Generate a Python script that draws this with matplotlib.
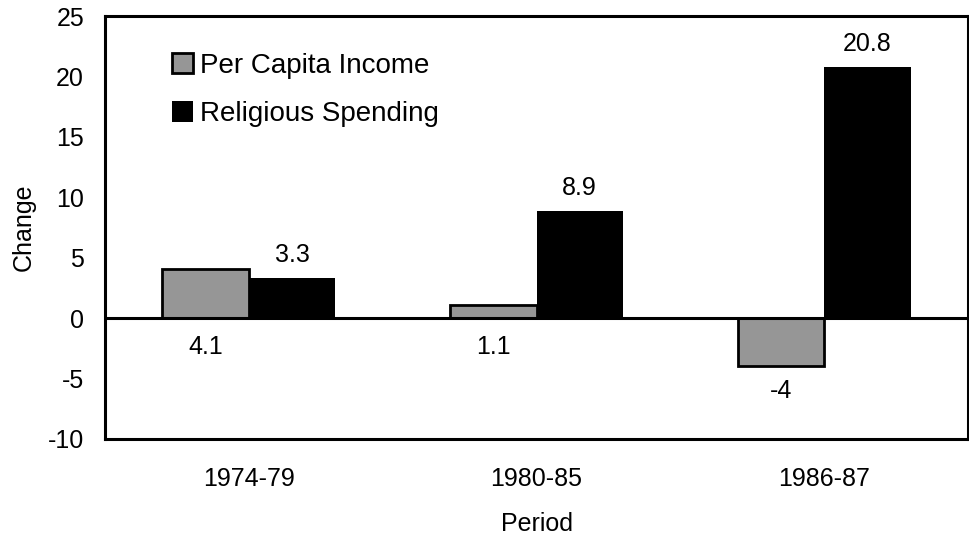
import numpy as np
import matplotlib.pyplot as plt

# data
periods = ['1974-79', '1980-85', '1986-87']
income = [4.1, 1.1, -4]
religious = [3.3, 8.9, 20.8]

plt.rcParams['font.family'] = ['Liberation Sans', 'DejaVu Sans']
plt.rcParams['axes.unicode_minus'] = False

fig = plt.figure(figsize=(9.7, 5.36), dpi=100)
ax = fig.add_axes([0.1082, 0.181, 0.8898, 0.789])

x = np.arange(len(periods))
w = 0.3

ax.bar(x - w / 2, income, w, color='#969696', edgecolor='black', linewidth=2,
       label='Per Capita Income', zorder=2)
ax.bar(x + w / 2, religious, w, color='black', edgecolor='black', linewidth=0,
       label='Religious Spending', zorder=2)
ax.axhline(0, color='black', lw=2.2, zorder=3)

# value labels
for xi, v in zip(x, income):
    if v >= 0:
        ax.annotate(f'{v:g}', (xi - w / 2, 0), xytext=(0, -12), textcoords='offset points',
                    ha='center', va='top', fontsize=18)
    else:
        ax.annotate(f'{v:g}', (xi - w / 2, v), xytext=(0, -9), textcoords='offset points',
                    ha='center', va='top', fontsize=18)
for xi, v in zip(x, religious):
    ax.annotate(f'{v:g}', (xi + w / 2, v), xytext=(0, 8), textcoords='offset points',
                ha='center', va='bottom', fontsize=18)

ax.set_xlim(-0.5, 2.5)
ax.set_ylim(-10, 25)
ax.set_yticks(np.arange(-10, 26, 5))
ax.set_xticks(x)
ax.set_xticklabels(periods)
ax.tick_params(axis='both', length=0, labelsize=18)
ax.tick_params(axis='y', pad=15)
ax.tick_params(axis='x', pad=20)
for s in ax.spines.values():
    s.set_linewidth(2.2)

ax.set_xlabel('Period', fontsize=18, labelpad=15)
ax.set_ylabel('Change', fontsize=18, labelpad=9)

ax.legend(loc='upper left', bbox_to_anchor=(0.049, 0.972), frameon=False, fontsize=20,
          handlelength=0.75, handleheight=0.75, handletextpad=0.25, labelspacing=0.8)

fig.savefig('out.png', dpi=100)
